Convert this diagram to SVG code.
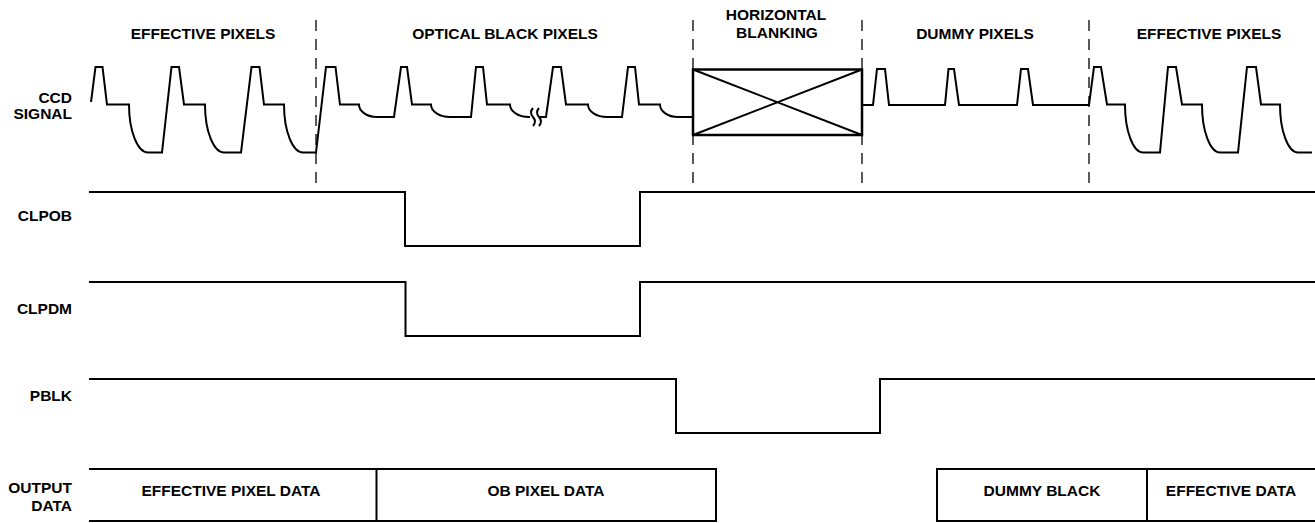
<svg xmlns="http://www.w3.org/2000/svg" width="1315" height="523" viewBox="0 0 1315 523">
<style>
.t{font-family:"Liberation Sans",Arial,sans-serif;font-weight:bold;font-size:15.5px;fill:#000}
.e{text-anchor:end}
.m{text-anchor:middle}
.w{fill:none;stroke:#000;stroke-width:2;stroke-linejoin:miter}
.d{fill:none;stroke:#000;stroke-width:1.3;stroke-dasharray:11,8}
</style>
<rect width="1315" height="523" fill="#fff"/>
<g id="headings">
<text class="t m" x="203" y="39">EFFECTIVE PIXELS</text>
<text class="t m" x="505" y="39">OPTICAL BLACK PIXELS</text>
<text class="t m" x="776" y="20">HORIZONTAL</text>
<text class="t m" x="777" y="37.5">BLANKING</text>
<text class="t m" x="975" y="39">DUMMY PIXELS</text>
<text class="t m" x="1209" y="39">EFFECTIVE PIXELS</text>
</g>
<g id="dividers">
<line class="d" x1="316" y1="20" x2="316" y2="186"/>
<line class="d" x1="693" y1="20" x2="693" y2="186"/>
<line class="d" x1="862" y1="20" x2="862" y2="186"/>
<line class="d" x1="1089" y1="20" x2="1089" y2="186"/>
</g>
<g id="ccd-signal">
<text class="t e" x="72" y="103">CCD</text>
<text class="t e" x="72" y="118.5">SIGNAL</text>
<path class="w" d="M 91,102 L 95.5,67 L 102.5,67 L 107,104.5 L 129,104.5 A 19 48 0 0 0 148,152.5 L 162,152.5 L 171.5,67 L 179,67 L 184,104.5 L 205,104.5 A 19 48 0 0 0 224,152.5 L 241,152.5 L 251.5,67 L 259.5,67 L 264,104.5 L 284,104.5 A 19 48 0 0 0 303,152.5 L 316,152.5 L 326,67 L 335.5,67 L 340,104.5 L 359,104.5 A 18 12.5 0 0 0 377,117 L 394,117 L 401,67 L 407,67 L 412,104.5 L 431,104.5 A 19 12.5 0 0 0 450,117 L 471,117 L 476,67 L 483,67 L 487,104.5 L 510,104.5 A 19 12.5 0 0 0 529,117 L 530,117"/>
<path class="w" d="M 533,108 q -4,4.5 0,9 t 0,9 M 539,108 q -4,4.5 0,9 t 0,9"/>
<path class="w" d="M 540,117 L 546,117 L 553,67 L 561,67 L 566,104.5 L 588,104.5 A 19 12.5 0 0 0 607,117 L 622,117 L 628,67 L 635,67 L 639,104.5 L 660,104.5 A 18 12.5 0 0 0 678,117 L 693,117"/>
<rect x="693" y="69.5" width="169" height="65.5" fill="none" stroke="#000" stroke-width="2.5"/>
<path class="w" d="M 693,69.5 L 862,135 M 693,135 L 862,69.5"/>
<path class="w" d="M 862,105 L 873,105 L 877,69 L 885,69 L 889,105 L 945,105 L 948.5,69 L 954,69 L 959,105 L 1017,105 L 1021,69 L 1028,69 L 1033,105 L 1089,105 L 1094,67 L 1101,67 L 1107,104.5 L 1125,104.5 A 18 48 0 0 0 1143,152.5 L 1160,152.5 L 1168,67 L 1176,67 L 1182,104.5 L 1202,104.5 A 18 48 0 0 0 1220,152.5 L 1238,152.5 L 1247,67 L 1256,67 L 1261,104.5 L 1280,104.5 A 18 48 0 0 0 1298,152.5 L 1312,152.5"/>
</g>
<g id="clpob">
<text class="t e" x="72" y="221">CLPOB</text>
<path class="w" d="M 89,192 H 405 V 246 H 640 V 192 H 1315"/>
</g>
<g id="clpdm">
<text class="t e" x="72" y="314">CLPDM</text>
<path class="w" d="M 89,282 H 405.5 V 336 H 640 V 282 H 1315"/>
</g>
<g id="pblk">
<text class="t e" x="72" y="400.5">PBLK</text>
<path class="w" d="M 89,379 H 676 V 433 H 880 V 379 H 1315"/>
</g>
<g id="output-data">
<text class="t e" x="72" y="492.5">OUTPUT</text>
<text class="t e" x="72" y="511">DATA</text>
<path class="w" d="M 89,469 H 716 V 521 H 89 M 376.5,469 V 521"/>
<path class="w" d="M 1315,469 H 937 V 521 H 1315 M 1147,469 V 521"/>
<text class="t m" x="231" y="496">EFFECTIVE PIXEL DATA</text>
<text class="t m" x="546" y="496">OB PIXEL DATA</text>
<text class="t m" x="1042" y="496">DUMMY BLACK</text>
<text class="t m" x="1231" y="496">EFFECTIVE DATA</text>
</g>
</svg>
